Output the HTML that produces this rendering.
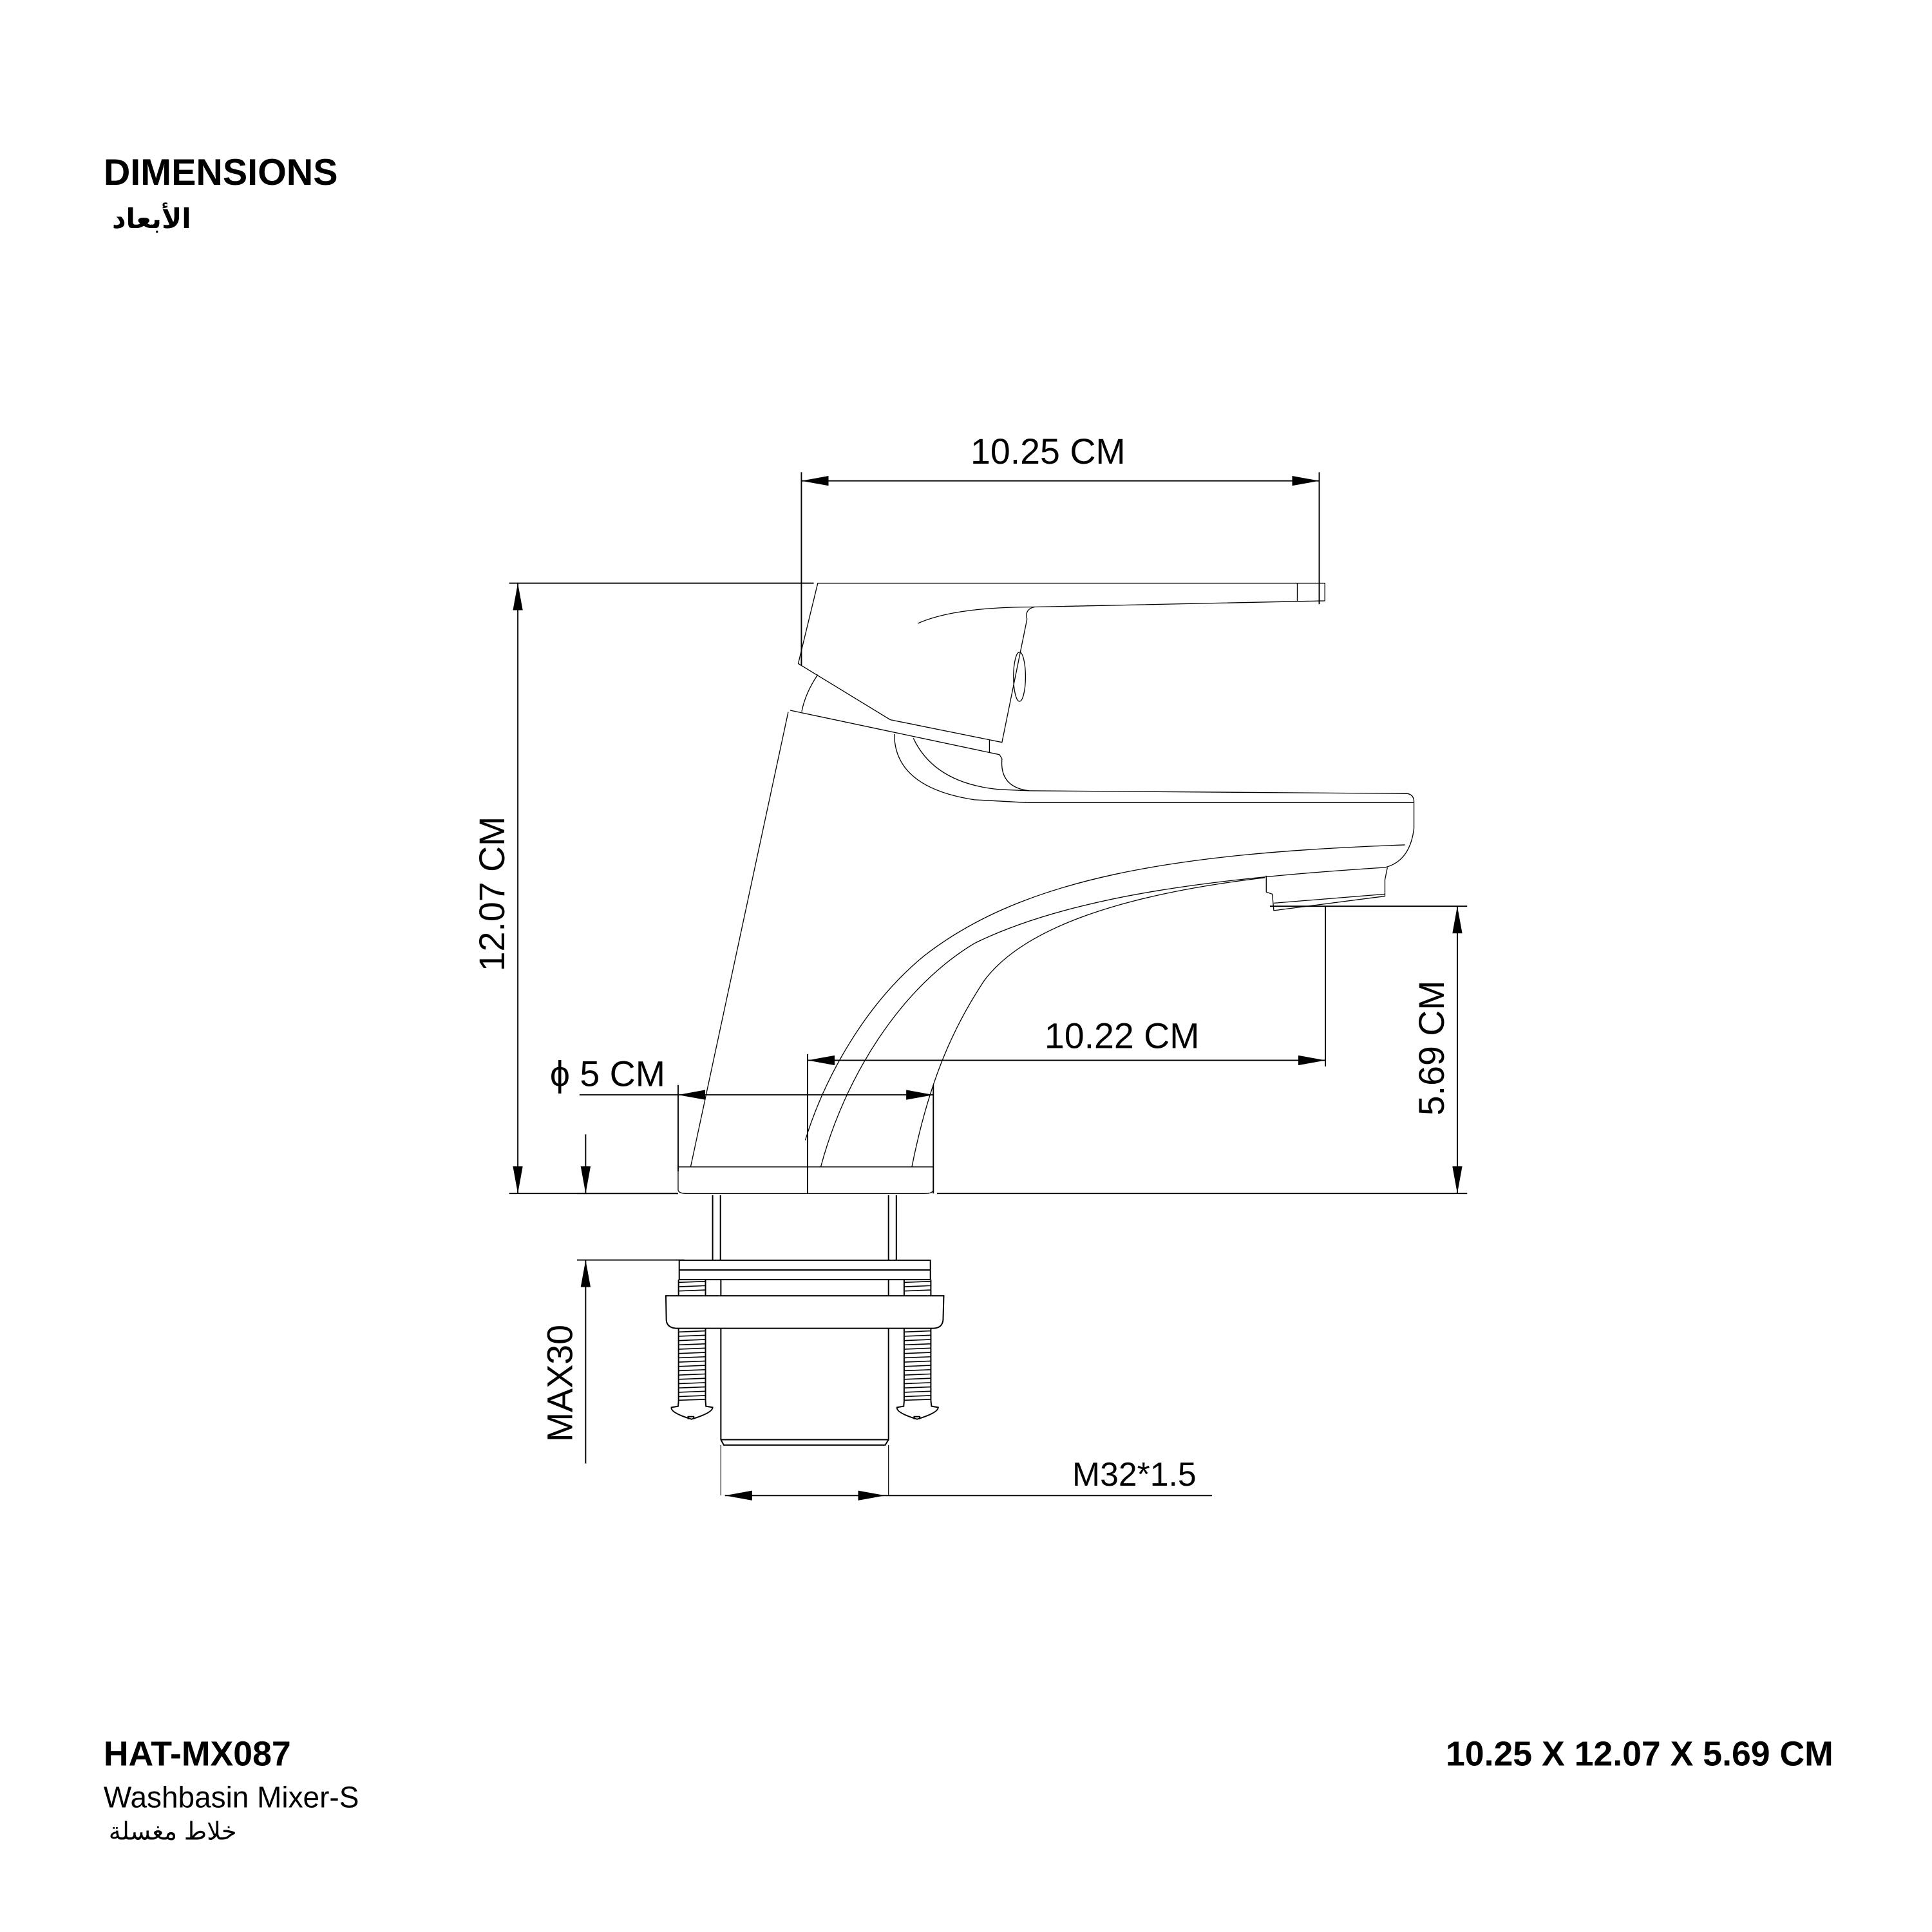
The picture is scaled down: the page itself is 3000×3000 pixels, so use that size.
<!DOCTYPE html>
<html><head><meta charset="utf-8"><style>
html,body{margin:0;padding:0;background:#fff}
svg{display:block}
text{font-family:"Liberation Sans","DejaVu Sans",sans-serif;fill:#000}
</style></head><body>
<svg width="3000" height="3000" viewBox="0 0 1567 1567" xmlns="http://www.w3.org/2000/svg">
<defs>
<marker id="a" markerUnits="userSpaceOnUse" markerWidth="24" markerHeight="10" refX="22" refY="4" orient="auto-start-reverse"><path d="M0,0 L22,4 L0,8 Z" fill="#000"/></marker>
</defs>
<rect width="1567" height="1567" fill="#fff"/>
<text x="84" y="150" font-size="30" font-weight="bold">DIMENSIONS</text>
<text x="155" y="185" font-size="22" font-weight="bold" font-family="'DejaVu Sans',sans-serif" text-anchor="end">الأبعاد</text>

<g stroke="#000" stroke-width="1" fill="none">
<line x1="650" y1="390" x2="1070" y2="390" marker-start="url(#a)" marker-end="url(#a)"/>
<line x1="650" y1="383" x2="650" y2="540"/>
<line x1="1070" y1="383" x2="1070" y2="490"/>
<line x1="420" y1="473" x2="420" y2="968" marker-start="url(#a)" marker-end="url(#a)"/>
<line x1="413" y1="473" x2="660" y2="473"/>
<line x1="413" y1="968" x2="550" y2="968"/>
<line x1="760" y1="968" x2="1190" y2="968"/>
<line x1="1182" y1="735" x2="1182" y2="968" marker-start="url(#a)" marker-end="url(#a)"/>
<line x1="1030" y1="735" x2="1190" y2="735"/>
<line x1="655" y1="860" x2="1075" y2="860" marker-start="url(#a)" marker-end="url(#a)"/>
<line x1="1075" y1="735" x2="1075" y2="865"/>
<line x1="655" y1="855" x2="655" y2="968"/>
<line x1="550" y1="888" x2="757" y2="888" marker-start="url(#a)" marker-end="url(#a)"/>
<line x1="470" y1="888" x2="550" y2="888"/>
<line x1="550" y1="880" x2="550" y2="950"/>
<line x1="757" y1="880" x2="757" y2="968"/>
<line x1="475" y1="920" x2="475" y2="968" marker-end="url(#a)"/>
<line x1="475" y1="1187" x2="475" y2="1022" marker-end="url(#a)"/>
<line x1="468" y1="968" x2="550" y2="968"/>
<line x1="468" y1="1022" x2="555" y2="1022"/>
<line x1="588" y1="1213" x2="718" y2="1213" marker-start="url(#a)" marker-end="url(#a)"/>
<line x1="718" y1="1213" x2="983" y2="1213"/>
</g>

<g font-size="29">
<text x="850" y="376" text-anchor="middle">10.25 CM</text>
<text x="910" y="850" text-anchor="middle">10.22 CM</text>
<text x="446" y="881">ϕ 5 CM</text>
<text x="920" y="1205" text-anchor="middle" font-size="27">M32*1.5</text>
<text transform="translate(409,725) rotate(-90)" text-anchor="middle">12.07 CM</text>
<text transform="translate(1171,850) rotate(-90)" text-anchor="middle">5.69 CM</text>
<text transform="translate(464,1122) rotate(-90)" text-anchor="middle">MAX30</text>
</g>

<g transform="translate(546.75,459.03) scale(0.406 0.3327)" stroke="#000" fill="none" stroke-width="1.3" stroke-linejoin="round">
<path vector-effect="non-scaling-stroke" d="M287,42 L1300,42 L1300,85 L720,100 Q700,105 705,130 L655,430 L432,375 L248,238 Z"/>
<path vector-effect="non-scaling-stroke" d="M1245,42 L1245,85"/>
<path vector-effect="non-scaling-stroke" d="M487,140 Q560,100 720,100"/>
<ellipse vector-effect="non-scaling-stroke" cx="690" cy="270" rx="12" ry="60"/>
<path vector-effect="non-scaling-stroke" d="M287,265 Q262,310 255,355"/>
<path vector-effect="non-scaling-stroke" d="M630,425 L630,455"/>
<path vector-effect="non-scaling-stroke" d="M232,352 L650,460 L655,470 Q650,540 710,548"/>
<path vector-effect="non-scaling-stroke" d="M228,356 L33,1465"/>
<path vector-effect="non-scaling-stroke" d="M440,410 Q440,540 600,570 L705,577"/>
<path vector-effect="non-scaling-stroke" d="M478,420 Q520,530 650,545 L710,548"/>
<path vector-effect="non-scaling-stroke" d="M710,548 L1465,555 Q1478,558 1478,575 L1478,640 Q1470,720 1420,735"/>
<path vector-effect="non-scaling-stroke" d="M705,577 L1478,577"/>
<path vector-effect="non-scaling-stroke" d="M1460,680 C1000,700 700,760 500,950 C380,1070 300,1250 262,1400"/>
<path vector-effect="non-scaling-stroke" d="M1420,735 C1100,760 800,800 600,920 C450,1030 340,1250 293,1465"/>
<path vector-effect="non-scaling-stroke" d="M1180,760 C900,800 700,880 620,1010 C560,1120 510,1250 475,1465"/>
<path vector-effect="non-scaling-stroke" d="M1183,755 L1183,795 L1195,800 L1198,840 L1420,805 L1420,765 L1425,735"/>
<path vector-effect="non-scaling-stroke" d="M1198,822 L1420,800"/>
<path vector-effect="non-scaling-stroke" d="M8,1465 L518,1465 L518,1520 Q518,1530 500,1530 L25,1530 Q8,1530 8,1520 Z"/>
</g>

<g transform="translate(532.85,965.9) scale(0.1806 0.1747)" stroke="#000" fill="none">
<path vector-effect="non-scaling-stroke" stroke-width="2" d="M250,20 L250,322 M285,20 L285,322 M1040,20 L1040,322 M1075,20 L1075,322"/>
<path vector-effect="non-scaling-stroke" stroke-width="2" d="M100,322 L1228,322 L1228,412 L100,412 Z M100,367 L1228,367"/>
<path vector-effect="non-scaling-stroke" stroke-width="2" d="M287,412 L287,487 M1040,412 L1040,487"/>
<path vector-effect="non-scaling-stroke" stroke-width="2" d="M40,487 L1288,487 L1285,600 Q1280,638 1240,638 L85,638 Q45,635 42,600 Z"/>
<path vector-effect="non-scaling-stroke" stroke-width="2" d="M287,638 L287,1155 L300,1180 L1025,1180 L1040,1155 L1040,638 M287,1155 L1040,1155"/>
<path vector-effect="non-scaling-stroke" stroke-width="1.2" d="M287,1180 L287,1414 M1040,1180 L1040,1414"/>
<path vector-effect="non-scaling-stroke" stroke-width="2" d="M97,412 L97,487 M218,412 L218,487 M97,638 L97,975 M218,638 L218,975"/>
<path vector-effect="non-scaling-stroke" stroke-width="1.6" d="M97,425 L218,420 M97,445 L218,440 M97,465 L218,460 M97,655 L218,650 M97,675 L218,670 M97,695 L218,690 M97,715 L218,710 M97,735 L218,730 M97,755 L218,750 M97,775 L218,770 M97,795 L218,790 M97,815 L218,810 M97,835 L218,830 M97,855 L218,850 M97,875 L218,870 M97,895 L218,890 M97,915 L218,910 M97,935 L218,930 M97,955 L218,950 M97,972 L218,968"/>
<path vector-effect="non-scaling-stroke" stroke-width="2" d="M97,975 L95,1000 L65,1005 Q60,1030 155,1060 Q250,1030 250,1005 L220,1000 L218,975 M140,1060 L140,1048 L165,1048 L165,1060"/>
<path vector-effect="non-scaling-stroke" stroke-width="2" d="M1110,412 L1110,487 M1230,412 L1230,487 M1110,638 L1110,975 M1230,638 L1230,975"/>
<path vector-effect="non-scaling-stroke" stroke-width="1.6" d="M1110,425 L1230,420 M1110,445 L1230,440 M1110,465 L1230,460 M1110,655 L1230,650 M1110,675 L1230,670 M1110,695 L1230,690 M1110,715 L1230,710 M1110,735 L1230,730 M1110,755 L1230,750 M1110,775 L1230,770 M1110,795 L1230,790 M1110,815 L1230,810 M1110,835 L1230,830 M1110,855 L1230,850 M1110,875 L1230,870 M1110,895 L1230,890 M1110,915 L1230,910 M1110,935 L1230,930 M1110,955 L1230,950 M1110,972 L1230,968"/>
<path vector-effect="non-scaling-stroke" stroke-width="2" d="M1110,975 L1108,1000 L1078,1005 Q1073,1030 1168,1060 Q1263,1030 1263,1005 L1233,1000 L1230,975 M1155,1060 L1155,1048 L1180,1048 L1180,1060"/>
</g>

<text x="84" y="1432" font-size="28" font-weight="bold">HAT-MX087</text>
<text x="84" y="1466" font-size="24">Washbasin Mixer-S</text>
<text x="192" y="1492" font-size="20" font-family="'DejaVu Sans',sans-serif" text-anchor="end">خلاط مغسلة</text>
<text x="1487" y="1432" font-size="28" font-weight="bold" text-anchor="end">10.25 X 12.07 X 5.69 CM</text>
</svg>
</body></html>
